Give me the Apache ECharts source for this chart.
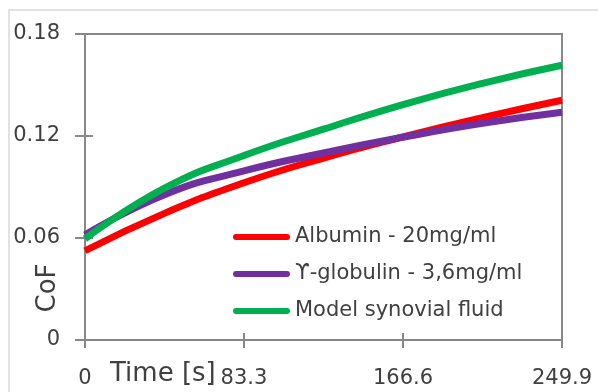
<!DOCTYPE html>
<html>
<head>
<meta charset="utf-8">
<script src="https://cdn.jsdelivr.net/npm/echarts@6/dist/echarts.min.js"></script>
<style>html,body{margin:0;padding:0;background:#fff}#c{width:598px;height:392px}</style>
</head>
<body>
<div id="c"></div>
<script>
var timeS = [0, 41.65, 83.3, 124.95, 166.6, 208.25, 249.9];
var albumin = [0.0525, 0.0745, 0.0925, 0.1070, 0.1195, 0.1308, 0.1410];
var globulin = [0.0618, 0.0855, 0.0995, 0.1100, 0.1193, 0.1275, 0.1340];
var synovial = [0.0595, 0.0893, 0.1085, 0.1240, 0.1385, 0.1510, 0.1616];
var seriesNames = ['Albumin - 20mg/ml', '\u03D2-globulin - 3,6mg/ml', 'Model synovial fluid'];
var seriesColors = ['#FF0000', '#7030A0', '#00B050'];
var xTickLabels = ['0', '83.3', '166.6', '249.9'];
var yTickLabels = ['0', '0.06', '0.12', '0.18'];

var FONT = 'DejaVu Sans';
var TXT = '#404040';
var AX = '#888888';

function pairs(xs, ys) { return xs.map(function (x, i) { return [x, ys[i]]; }); }
var allSeries = [albumin, globulin, synovial];

var chart = echarts.init(document.getElementById('c'), null, {renderer: 'canvas'});
chart.setOption({
  animation: false,
  graphic: [
    {type: 'rect', shape: {x: 9, y: 10, width: 700, height: 500}, style: {fill: 'none', stroke: '#d9d9d9', lineWidth: 1.5}, z: -1},
    {type: 'text', left: 110, top: 361, style: {text: 'Time [s]', font: '26px "' + FONT + '"', fill: TXT}},
    {type: 'text', x: 48, y: 288, rotation: Math.PI / 2, style: {text: 'CoF', font: '26px "' + FONT + '"', fill: TXT, align: 'center', verticalAlign: 'middle'}}
  ],
  grid: {left: 85, top: 34, right: 36, bottom: 52, show: true, borderColor: AX, borderWidth: 2, backgroundColor: 'transparent'},
  legend: {
    orient: 'vertical', left: 228, top: 221, itemGap: 15, padding: 5,
    itemWidth: 57, itemHeight: 7,
    icon: 'path://M3,0 L54,0 A3,3 0 0 1 54,6 L3,6 A3,3 0 0 1 3,0 Z',
    textStyle: {fontFamily: FONT, fontSize: 21, color: TXT, lineHeight: 22},
    data: seriesNames
  },
  xAxis: [
    {type: 'value', min: 0, max: 249.9, interval: 83.3,
     axisLine: {lineStyle: {color: AX, width: 2}},
     axisTick: {show: true, length: 8, lineStyle: {color: AX, width: 2}},
     axisLabel: {margin: 28, fontFamily: FONT, fontSize: 21, color: TXT,
       formatter: function (v) { return xTickLabels[Math.round(v / 83.3)]; }},
     splitLine: {show: false}},
    {type: 'value', min: 0, max: 249.9, interval: 83.3, position: 'bottom',
     axisLine: {show: false},
     axisTick: {show: true, inside: true, length: 7, lineStyle: {color: AX, width: 2}},
     axisLabel: {show: false}, splitLine: {show: false}}
  ],
  yAxis: [
    {type: 'value', min: 0, max: 0.18, interval: 0.06,
     axisLine: {show: true, lineStyle: {color: AX, width: 2}},
     axisTick: {show: true, length: 10, lineStyle: {color: AX, width: 2}},
     axisLabel: {margin: 25, fontFamily: FONT, fontSize: 21, color: TXT,
       formatter: function (v) { return yTickLabels[Math.round(v / 0.06)]; }},
     splitLine: {show: false}},
    {type: 'value', min: 0, max: 0.18, interval: 0.06, position: 'left',
     axisLine: {show: false},
     axisTick: {show: true, inside: true, length: 8, lineStyle: {color: AX, width: 2}},
     axisLabel: {show: false}, splitLine: {show: false}}
  ],
  series: allSeries.map(function (vals, i) {
    return {
      name: seriesNames[i], type: 'line', smooth: 0.5,
      showSymbol: false, symbol: 'none',
      xAxisIndex: 0, yAxisIndex: 0,
      data: pairs(timeS, vals),
      lineStyle: {color: seriesColors[i], width: 7},
      itemStyle: {color: seriesColors[i]},
      z: 2 + i
    };
  })
});
</script>
</body>
</html>
